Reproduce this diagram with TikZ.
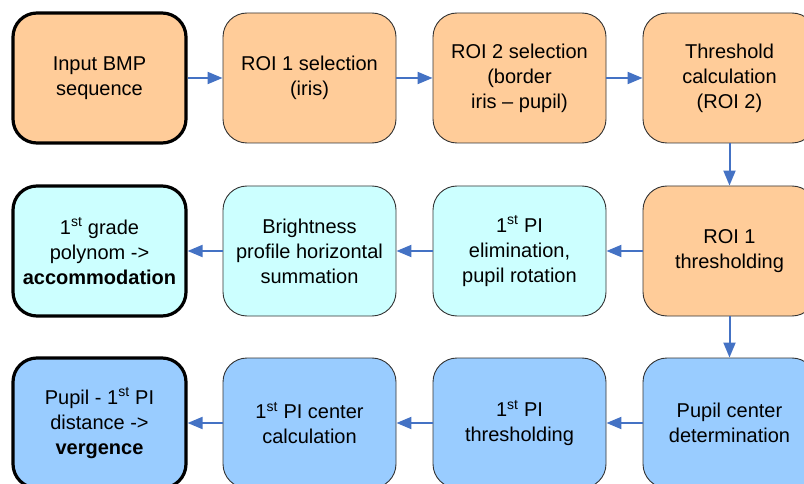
\documentclass[tikz,border=0pt]{standalone}
\usepackage{fontspec}
\setmainfont{Liberation Sans}
\usetikzlibrary{arrows.meta}
\definecolor{peach}{RGB}{255,204,153}
\definecolor{paleCyan}{RGB}{204,255,255}
\definecolor{skyBlue}{RGB}{153,204,255}
\definecolor{flowBlue}{RGB}{68,114,196}
\tikzset{
  stage/.style={draw=black!80,line width=0.9pt,rounded corners=24pt,
    minimum width=173pt,minimum height=130pt,align=center,
    font=\fontsize{20}{25}\selectfont},
  endstage/.style={stage,draw=black,line width=3.2pt},
  flow/.style={draw=flowBlue,line width=2pt,-{Triangle[length=15pt,width=12pt]}}
}
\begin{document}
\begin{tikzpicture}[x=1pt,y=-1pt]
			\useasboundingbox (0,0) rectangle (804,484);
			\clip (0,0) rectangle (804,484);
			% first row
			\node[endstage,fill=peach] (input) at (99.5,78) {Input BMP\\sequence};
			\node[stage,fill=peach] (roiOne) at (309.5,78) {ROI 1 selection\\(iris)};
			\node[stage,fill=peach] (roiTwo) at (519.5,78) {ROI 2 selection\\(border\\iris – pupil)};
			\node[stage,fill=peach] (thrCalc) at (729.5,78) {Threshold\\calculation\\(ROI 2)};
			% second row
			\node[stage,fill=peach] (roiThr) at (729.5,251) {ROI 1\\thresholding};
			\node[stage,fill=paleCyan] (piElim) at (519.5,251) {1\textsuperscript{st} PI\\elimination,\\pupil rotation};
			\node[stage,fill=paleCyan] (profile) at (309.5,251) {Brightness\\profile horizontal\\summation};
			\node[endstage,fill=paleCyan] (accomm) at (99.5,251) {1\textsuperscript{st} grade\\polynom ->\\\textbf{accommodation}};
			% third row
			\node[stage,fill=skyBlue] (pupCen) at (729.5,423) {Pupil center\\determination};
			\node[stage,fill=skyBlue] (piThr) at (519.5,423) {1\textsuperscript{st} PI\\thresholding};
			\node[stage,fill=skyBlue] (piCen) at (309.5,423) {1\textsuperscript{st} PI center\\calculation};
			\node[endstage,fill=skyBlue] (verg) at (99.5,423) {Pupil - 1\textsuperscript{st} PI\\distance ->\\\textbf{vergence}};
			% connectors
			\draw[flow] (input) -- (roiOne);
			\draw[flow] (roiOne) -- (roiTwo);
			\draw[flow] (roiTwo) -- (thrCalc);
			\draw[flow] (thrCalc) -- (roiThr);
			\draw[flow] (roiThr) -- (piElim);
			\draw[flow] (piElim) -- (profile);
			\draw[flow] (profile) -- (accomm);
			\draw[flow] (roiThr) -- (pupCen);
			\draw[flow] (pupCen) -- (piThr);
			\draw[flow] (piThr) -- (piCen);
			\draw[flow] (piCen) -- (verg);
	\end{tikzpicture}
\end{document}
